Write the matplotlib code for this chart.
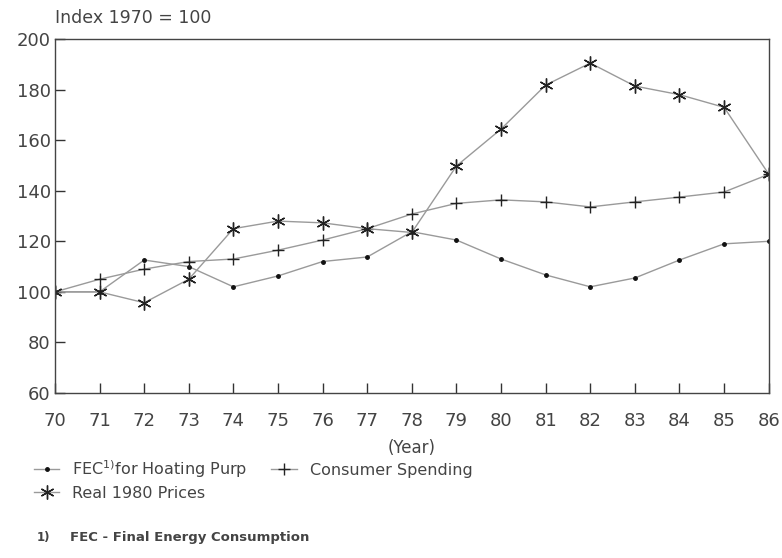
import matplotlib.pyplot as plt
import matplotlib.ticker as mticker

# dados
anos = list(range(70, 87))
fec_aquecimento = [100, 100, 112.6, 110, 102, 106.3, 112, 113.8, 123.8, 120.5,
                   113, 106.7, 102, 105.5, 112.6, 119, 120]
consumo = [100, 105, 109, 112, 113, 116.5, 120.5, 125, 130.8, 135,
           136.4, 135.6, 133.6, 135.6, 137.5, 139.5, 146.5]
precos_1980 = [100, 100, 95.7, 105, 125, 128, 127.3, 125, 123.5, 149.8,
               164.4, 181.8, 190.5, 181.4, 178, 173, 146.6]

cor_texto = '#444444'
cor_linha = '#9a9a9a'
plt.rcParams['font.family'] = ['DejaVu Sans']

fig = plt.figure(figsize=(7.82, 5.58), dpi=100)
ax = fig.add_axes([0.0703, 0.2957, 0.9127, 0.6343])

l1, = ax.plot(anos, fec_aquecimento, color=cor_linha, lw=1.0, marker='.',
              markersize=5, markerfacecolor='#111111', markeredgecolor='#111111')
l2, = ax.plot(anos, consumo, color=cor_linha, lw=1.0, marker='+',
              markersize=9, markeredgewidth=1.0, markeredgecolor='#222222')
l3, = ax.plot(anos, precos_1980, color=cor_linha, lw=1.0, marker=(6, 2, 0),
              markersize=10, markeredgewidth=1.0, markeredgecolor='#222222')

ax.set_xlim(70, 86)
ax.set_ylim(60, 200)
ax.xaxis.set_major_locator(mticker.MultipleLocator(1))
ax.yaxis.set_major_locator(mticker.MultipleLocator(20))
ax.tick_params(axis='both', direction='in', length=7, width=1.0, color='#333333',
               labelsize=13, labelcolor=cor_texto)
ax.tick_params(axis='x', pad=14)
ax.tick_params(axis='y', pad=3)
for s in ax.spines.values():
    s.set_color('#444444')
    s.set_linewidth(1.0)

ax.text(0.0, 1.035, 'Index 1970 = 100', transform=ax.transAxes, fontsize=12.5,
        color=cor_texto, ha='left', va='bottom')
ax.set_xlabel('(Year)', fontsize=12, color=cor_texto, labelpad=6)

fig.legend([l1, l3, l2],
           ['FEC$^{1)}$for Hoating Purp', 'Real 1980 Prices', 'Consumer Spending'],
           loc='upper left', bbox_to_anchor=(0.035, 0.19), ncol=2, frameon=False,
           fontsize=11.5, labelcolor=cor_texto, handlelength=1.6, handletextpad=0.8,
           columnspacing=1.5, labelspacing=0.35, borderaxespad=0)

fig.text(0.047, 0.03, '1)', fontsize=8.5, weight='bold', color=cor_texto)
fig.text(0.09, 0.03, 'FEC - Final Energy Consumption', fontsize=9.5,
         weight='bold', color=cor_texto)

fig.savefig('out.png', dpi=100)
